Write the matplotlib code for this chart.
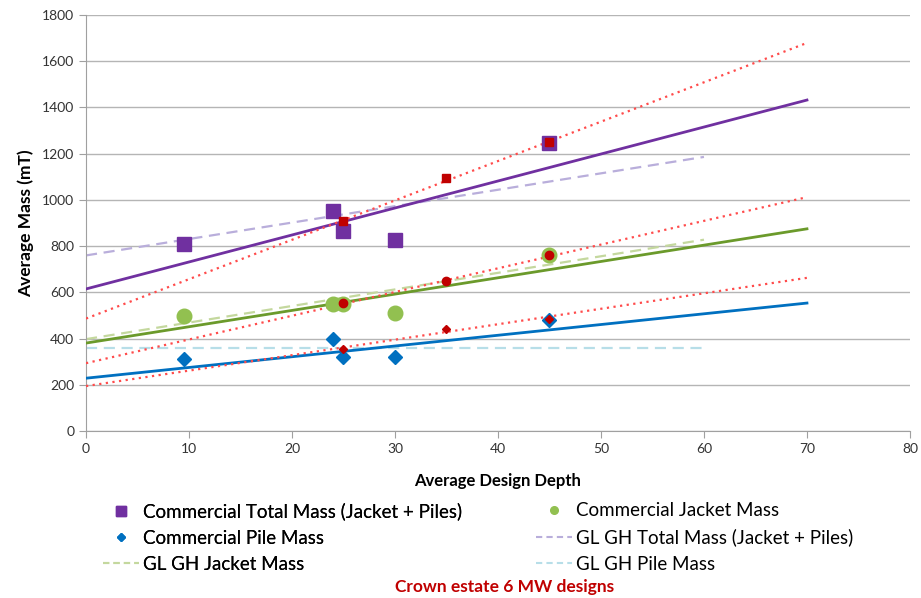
import matplotlib
matplotlib.use("Agg")
import matplotlib.pyplot as plt
from matplotlib.lines import Line2D

plt.rcParams['font.family'] = ['Lato', 'DejaVu Sans']

# Commercial data
depth = [9.5, 24, 25, 30, 45]
total_mass = [810, 950, 865, 825, 1245]
jacket_mass = [500, 550, 550, 510, 760]
pile_mass = [310, 400, 320, 320, 480]

# Red (additional design) points
red_depth = [25, 35, 45]
red_total = [910, 1095, 1250]
red_jacket = [555, 650, 760]
red_pile = [355, 440, 485]

# Trend lines (endpoints)
trend_x = [0, 70]
trend_total = [615, 1432]
trend_jacket = [381, 875]
trend_pile = [229, 554]
red_trend_total = [487, 1679]
red_trend_jacket = [294, 1012]
red_trend_pile = [195, 663]

# GL GH lines
gl_x = [0, 60]
gl_total = [760, 1186]
gl_jacket = [398, 828]
gl_pile = [360, 360]

labels = ["Commercial Total Mass (Jacket + Piles)", "Commercial Jacket Mass",
          "Commercial Pile Mass", "GL GH Total Mass (Jacket + Piles)",
          "GL GH Jacket Mass", "GL GH Pile Mass"]

purple = '#7030A0'
green_m = '#92C050'
green_l = '#6B9A2B'
blue = '#0070C0'
red = '#C00000'
red_dot = '#FF4B4B'
lav = '#B9AEDB'
lgreen = '#C4D89E'
lblue = '#B7DEE8'

fig = plt.figure(figsize=(9.21, 5.98), dpi=100)
ax = fig.add_axes([0.0934, 0.279, 0.8946, 0.696])

# GL GH dashed lines
ax.plot(gl_x, gl_total, color=lav, lw=1.6, dashes=(5, 3), zorder=2)
ax.plot(gl_x, gl_jacket, color=lgreen, lw=1.6, dashes=(5, 3), zorder=2)
ax.plot(gl_x, gl_pile, color=lblue, lw=1.6, dashes=(5, 3), zorder=2)

# Commercial trend lines
ax.plot(trend_x, trend_total, color=purple, lw=2, zorder=3)
ax.plot(trend_x, trend_jacket, color=green_l, lw=2, zorder=3)
ax.plot(trend_x, trend_pile, color=blue, lw=2, zorder=3)

# Red dotted trend lines
for yv in (red_trend_total, red_trend_jacket, red_trend_pile):
    ax.plot(trend_x, yv, color=red_dot, lw=1.6, ls=(0, (1, 2)), zorder=3)

# Commercial markers
ax.plot(depth, total_mass, ls='none', marker='s', ms=9.5, color=purple, zorder=4)
ax.plot(depth, jacket_mass, ls='none', marker='o', ms=10.5, color=green_m, zorder=4)
ax.plot(depth, pile_mass, ls='none', marker='D', ms=7, color=blue, zorder=4)

# Red markers
ax.plot(red_depth, red_total, ls='none', marker='s', ms=6, color=red, zorder=5)
ax.plot(red_depth, red_jacket, ls='none', marker='o', ms=6, color=red, zorder=5)
ax.plot(red_depth, red_pile, ls='none', marker='D', ms=4.5, color=red, zorder=5)

ax.set_xlim(0, 80)
ax.set_ylim(0, 1800)
ax.set_xticks(range(0, 81, 10))
ax.set_yticks(range(0, 1801, 200))
ax.grid(axis='y', color='#B5B5B5', lw=1)
ax.set_axisbelow(True)
for s in ('top', 'right'):
    ax.spines[s].set_visible(False)
for s in ('left', 'bottom'):
    ax.spines[s].set_color('#A0A0A0')
ax.tick_params(axis='both', colors='#A0A0A0', labelcolor='#333333', labelsize=10, length=5)
ax.set_xlabel("Average Design Depth", fontsize=12, fontweight='bold', labelpad=13)
ax.set_ylabel("Average Mass (mT)", fontsize=12.5, fontweight='bold', labelpad=6)

h = [Line2D([], [], ls='none', marker='s', ms=6.5, color=purple),
     Line2D([], [], ls='none', marker='o', ms=5.5, color=green_m),
     Line2D([], [], ls='none', marker='D', ms=4.5, color=blue),
     Line2D([], [], color=lav, lw=1.5, dashes=(3, 2)),
     Line2D([], [], color=lgreen, lw=1.5, dashes=(3, 2)),
     Line2D([], [], color=lblue, lw=1.5, dashes=(3, 2))]

common = dict(loc='upper left', frameon=False, fontsize=13.5, handlelength=1.9,
              handletextpad=0.25, labelspacing=0.5, borderpad=0,
              borderaxespad=0)
leg1 = fig.legend([h[0], h[2], h[4]], [labels[0], labels[2], labels[4]],
                  bbox_to_anchor=(0.112, 0.160), **common)
fig.add_artist(leg1)
leg2 = fig.legend([h[1], h[3], h[5]], [labels[1], labels[3], labels[5]],
                  bbox_to_anchor=(0.582, 0.160), **common)

fig.text(0.548, 1 - 587 / 598, "Crown estate 6 MW designs", color='#C00000',
         fontsize=12.5, fontweight='bold', ha='center', va='center')

fig.savefig("out.png", dpi=100)
